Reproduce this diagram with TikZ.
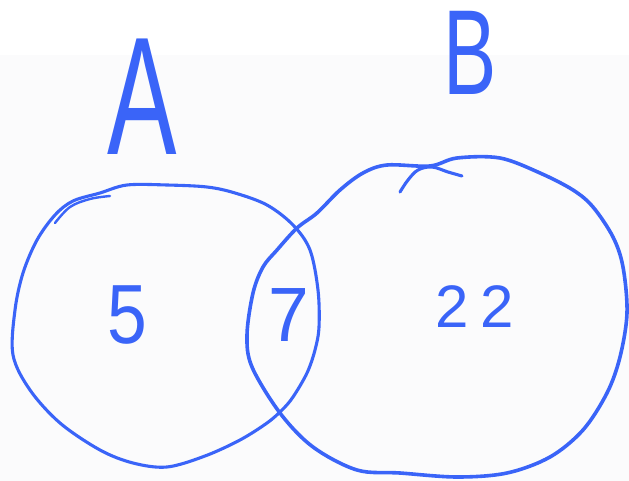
\documentclass[tikz,border=0pt]{standalone}
\usepackage{fontspec}
\setmainfont{Liberation Sans}
\definecolor{pen}{RGB}{58,100,248}
\definecolor{paper}{RGB}{251,251,252}
\tikzset{
  stroke/.style={draw=pen, line width=3.1pt, line cap=round, line join=round},
  label/.style={text=pen, inner sep=0pt, anchor=center},
}
\begin{document}
\begin{tikzpicture}[x=1pt,y=-1pt]
\useasboundingbox (0,0) rectangle (629,481);
\fill[white] (0,0) rectangle (629,481);
\fill[paper] (0,55) rectangle (629,481);
% circle A
\draw[stroke] plot[smooth cycle, tension=0.55] coordinates {
  (127,185) (167,185) (207,187) (235,193) (267,205) (293,225) (310,250)
  (318,290) (319,327) (315,350) (307,373) (293,397) (282,410) (267,423)
  (240,440) (205,456) (167,467) (133,463) (100,450) (60,423) (30,390)
  (13,355) (15,310) (23,273) (37,240) (55,215) (73,201) (100,193)};
\draw[stroke, line width=2.4pt] plot[smooth, tension=0.6] coordinates {(55,223) (70,207) (90,199) (110,196)};
% circle B
\draw[stroke, line width=3.6pt] plot[smooth cycle, tension=0.55] coordinates {
  (247,335) (252,367) (280,413) (313,447) (357,470) (400,473) (457,477)
  (507,473) (550,457) (583,430) (607,393) (620,357) (627,313) (623,267)
  (613,237) (593,207) (573,190) (540,173) (500,158) (457,158) (430,166)
  (387,165) (363,173) (340,190) (317,213) (297,228) (277,250) (263,267)
  (253,293)};
\draw[stroke] plot[smooth, tension=0.6] coordinates {(400,192) (408,180) (418,170) (432,167) (448,172) (462,176)};
% labels
\node[label] (labA) at (142,97) {\scalebox{0.62}[1]{\fontsize{168}{168}\selectfont A}};
\node[label] (labB) at (470,53) {\scalebox{0.66}[1]{\fontsize{121}{121}\selectfont B}};
\node[label] (n5) at (127,315) {\scalebox{0.85}[1]{\fontsize{84}{84}\selectfont 5}};
\node[label] (n7) at (289,315) {\scalebox{0.95}[1]{\fontsize{77}{77}\selectfont 7}};
\node[label] (n22) at (475,307) {\fontsize{60}{60}\selectfont 2\hspace{12pt}2};
\end{tikzpicture}
\end{document}
